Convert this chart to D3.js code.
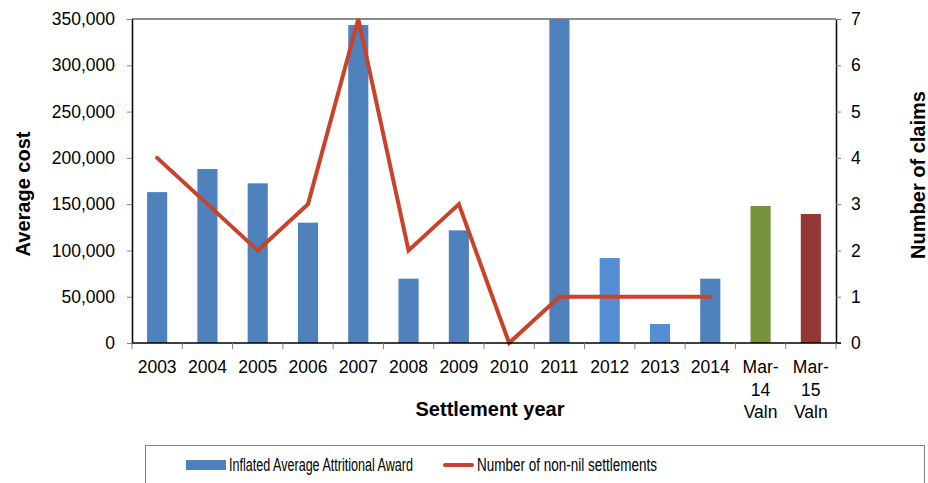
<!DOCTYPE html>
<html>
<head>
<meta charset="utf-8">
<script src="https://cdn.jsdelivr.net/npm/d3@7"></script>
<style>
  html, body { margin: 0; padding: 0; background: #fff; }
  svg { display: block; font-family: Arial, "Liberation Sans", sans-serif; }
</style>
</head>
<body>
<svg id="chart" width="928" height="483"></svg>
<script>
// ---- data ----
const categories = ["2003","2004","2005","2006","2007","2008","2009","2010","2011","2012","2013","2014","Mar-14 Valn","Mar-15 Valn"];
const categoryLines = [["2003"],["2004"],["2005"],["2006"],["2007"],["2008"],["2009"],["2010"],["2011"],["2012"],["2013"],["2014"],["Mar-","14","Valn"],["Mar-","15","Valn"]];
const awardValues = [163000, 188000, 172500, 130000, 343500, 69500, 121700, 0, 350000, 91800, 20500, 69500, 148000, 139400];
const barColors = ["#4F81BD","#4F81BD","#4F81BD","#4F81BD","#4F81BD","#4F81BD","#4F81BD","#4F81BD","#4F81BD","#558ED5","#558ED5","#4F81BD","#77933C","#953735"];
const settlementCategories = ["2003","2004","2005","2006","2007","2008","2009","2010","2011","2012","2013","2014"];
const settlementCounts = [4, 3, 2, 3, 7, 2, 3, 0, 1, 1, 1, 1];
const leftTicks = [0, 50000, 100000, 150000, 200000, 250000, 300000, 350000];
const rightTicks = [0, 1, 2, 3, 4, 5, 6, 7];
const seriesNames = ["Inflated Average Attritional Award", "Number of non-nil settlements"];
const lineColor = "#C8432A";

// ---- layout ----
const svg = d3.select("#chart");
const L = 132, R = 836, T = 19, B = 343;

const x = d3.scaleBand().domain(categories).range([L, R]).paddingInner(0.6).paddingOuter(0.3);
const yL = d3.scaleLinear().domain([0, 350000]).range([B, T]);
const yR = d3.scaleLinear().domain([0, 7]).range([B, T]);

// top border of plot area
svg.append("line").attr("x1", L).attr("x2", R).attr("y1", T).attr("y2", T)
  .attr("stroke", "#8c8c8c").attr("stroke-width", 2);

// bars
svg.append("g").selectAll("rect").data(categories).join("rect")
  .attr("x", d => x(d))
  .attr("width", x.bandwidth())
  .attr("y", (d, i) => yL(Math.min(awardValues[i], 350000)))
  .attr("height", (d, i) => yL(0) - yL(Math.min(awardValues[i], 350000)))
  .attr("fill", (d, i) => barColors[i]);

// line
const line = d3.line()
  .x((d, i) => x(settlementCategories[i]) + x.bandwidth() / 2)
  .y(d => yR(d));
svg.append("path").datum(settlementCounts)
  .attr("d", line)
  .attr("fill", "none")
  .attr("stroke", lineColor)
  .attr("stroke-width", 4)
  .attr("stroke-linejoin", "miter")
  .attr("stroke-linecap", "round");

// left axis
const gL = svg.append("g").attr("transform", `translate(${L},0)`)
  .call(d3.axisLeft(yL).tickValues(leftTicks).tickSize(5).tickSizeOuter(0).tickPadding(12).tickFormat(d3.format(",")));
gL.select(".domain").attr("stroke", "#000").attr("stroke-width", 1.5);
gL.selectAll(".tick line").attr("stroke", "#808080");
gL.selectAll(".tick text").attr("font-size", 17.5).attr("fill", "#000").attr("font-family", "Arial, 'Liberation Sans', sans-serif");

// right axis
const gR = svg.append("g").attr("transform", `translate(${R},0)`)
  .call(d3.axisRight(yR).tickValues(rightTicks).tickSize(5).tickSizeOuter(0).tickPadding(10).tickFormat(d3.format("d")));
gR.select(".domain").attr("stroke", "#000").attr("stroke-width", 1.5);
gR.selectAll(".tick line").attr("stroke", "#808080");
gR.selectAll(".tick text").attr("font-size", 17.5).attr("fill", "#000").attr("font-family", "Arial, 'Liberation Sans', sans-serif");

// bottom axis: line + boundary ticks
const gB = svg.append("g");
gB.append("line").attr("x1", L).attr("x2", R + 5).attr("y1", B).attr("y2", B)
  .attr("stroke", "#000").attr("stroke-width", 1.5);
const bounds = d3.range(categories.length + 1).map(i => x.range()[0] + i * x.step());
gB.selectAll("line.tk").data(bounds).join("line").attr("class", "tk")
  .attr("x1", d => d).attr("x2", d => d).attr("y1", B).attr("y2", B + 6)
  .attr("stroke", "#808080");

// category labels
const lab = svg.append("g").selectAll("text").data(categories).join("text")
  .attr("x", d => x(d) + x.bandwidth() / 2)
  .attr("y", 373)
  .attr("text-anchor", "middle")
  .attr("font-size", 17.5)
  .attr("fill", "#000");
lab.each(function(d, i) {
  const t = d3.select(this);
  categoryLines[i].forEach((s, j) => {
    t.append("tspan").attr("x", x(d) + x.bandwidth() / 2).attr("dy", j === 0 ? 0 : 22.5).text(s);
  });
});

// axis titles
svg.append("text").attr("x", 490).attr("y", 416).attr("text-anchor", "middle")
  .attr("font-size", 20).attr("font-weight", "bold").text("Settlement year");
svg.append("text").attr("transform", "translate(30,194) rotate(-90)").attr("text-anchor", "middle")
  .attr("font-size", 20).attr("font-weight", "bold").text("Average cost");
svg.append("text").attr("transform", "translate(925,175) rotate(-90)").attr("text-anchor", "middle")
  .attr("font-size", 20).attr("font-weight", "bold").text("Number of claims");

// legend
const lg = svg.append("g");
lg.append("rect").attr("x", 145.5).attr("y", 445.5).attr("width", 779).attr("height", 60)
  .attr("fill", "#fff").attr("stroke", "#808080").attr("stroke-width", 1);
lg.append("rect").attr("x", 186).attr("y", 460).attr("width", 40).attr("height", 10).attr("fill", "#4F81BD");
lg.append("text").attr("x", 229).attr("y", 471).attr("font-size", 17.5)
  .attr("textLength", 184).attr("lengthAdjust", "spacingAndGlyphs").text(seriesNames[0]);
lg.append("line").attr("x1", 445).attr("x2", 472).attr("y1", 465).attr("y2", 465)
  .attr("stroke", lineColor).attr("stroke-width", 4).attr("stroke-linecap", "round");
lg.append("text").attr("x", 477).attr("y", 471).attr("font-size", 17.5)
  .attr("textLength", 180).attr("lengthAdjust", "spacingAndGlyphs").text(seriesNames[1]);
</script>
</body>
</html>
